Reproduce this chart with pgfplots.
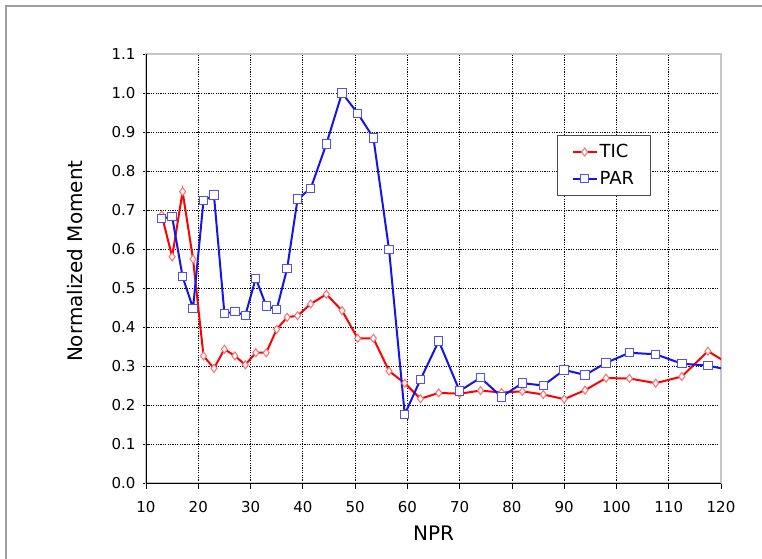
\documentclass[border=0pt]{standalone}
\usepackage{pgfplots}
\pgfplotsset{compat=1.18}
\usepackage{fontspec}
\setmainfont{DejaVu Sans}

\definecolor{ticred}{RGB}{255,0,0}
\definecolor{ticmark}{RGB}{255,110,110}
\definecolor{parblue}{RGB}{20,20,235}
\definecolor{parmark}{RGB}{80,80,245}

\pgfplotstableread{
x     tic    par
13    0.687  0.678
15    0.580  0.683
17    0.747  0.529
19    0.574  0.448
21    0.326  0.724
23    0.294  0.738
25    0.343  0.435
27    0.326  0.439
29    0.303  0.430
31    0.334  0.525
33    0.334  0.454
35    0.394  0.445
37    0.425  0.550
39    0.429  0.728
41.5  0.459  0.755
44.5  0.484  0.869
47.5  0.442  1.000
50.5  0.371  0.948
53.5  0.371  0.885
56.5  0.287  0.598
59.5  0.256  0.176
62.5  0.216  0.265
66    0.231  0.364
70    0.229  0.236
74    0.237  0.270
78    0.232  0.221
82    0.235  0.256
86    0.227  0.250
90    0.215  0.290
94    0.238  0.277
98    0.269  0.308
102.5 0.268  0.334
107.5 0.256  0.330
112.5 0.273  0.306
117.5 0.338  0.301
122.5 0.297  0.287
}\npr

\begin{document}
\begin{tikzpicture}
\path[use as bounding box] (0pt,0pt) rectangle (762pt,558pt);
\fill[white] (0pt,0pt) rectangle (762pt,558pt);
\draw[gray!75, line width=1.5pt] (6pt,-20pt) -- (6pt,552pt) -- (790pt,552pt);
\begin{axis}[
    at={(146pt,75pt)}, anchor=south west,
    width=575pt, height=429pt, scale only axis,
    xmin=10, xmax=120, ymin=0, ymax=1.1,
    xtick={10,20,30,40,50,60,70,80,90,100,110,120},
    ytick={0,0.1,0.2,0.3,0.4,0.5,0.6,0.7,0.8,0.9,1.0,1.1},
    xtick pos=left, ytick pos=left,
    major tick length=6pt,
    tick style={black, line width=0.8pt},
    xtick align=outside, ytick align=center,
    /pgf/number format/assume math mode=true,
    tick label style={font=\fontsize{15}{17}\selectfont},
    xticklabel style={yshift=-9pt},
    yticklabel style={xshift=-4pt, /pgf/number format/.cd, fixed, fixed zerofill, precision=1},
    grid=major,
    major grid style={black, dash pattern=on 1.2pt off 1.2pt, line width=0.7pt},
    axis line style={gray!45, line width=2pt},
    xlabel={NPR}, ylabel={Normalized Moment},
    label style={font=\fontsize{20}{24}\selectfont},
    xlabel style={at={(axis description cs:0.5,-0.1166)}, anchor=center},
    ylabel style={at={(axis description cs:-0.1235,0.517)}, anchor=center},
    legend style={at={(rel axis cs:0.715,0.811)}, anchor=north west,
        draw=black!70, line width=1pt, fill=white,
        font=\fontsize{18}{20}\selectfont,
        inner xsep=14pt, inner ysep=7pt, row sep=8pt,
        cells={anchor=west}},
    legend image code/.code={\draw[mark repeat=2,mark phase=2]
        plot coordinates {(0pt,0pt) (12pt,0pt) (24pt,0pt)};},
    legend cell align=left,
]
\addplot[ticred, line width=2pt, mark=diamond*, mark size=4pt,
    mark options={fill=white, draw=ticmark, line width=1pt}]
    table[x=x, y=tic] {\npr};
\addlegendentry{TIC}
\addplot[parblue, line width=2pt, mark=square*, mark size=4.2pt,
    mark options={fill=white, draw=parmark, line width=1pt}]
    table[x=x, y=par] {\npr};
\addlegendentry{PAR}
\draw[black, line width=1pt] (rel axis cs:0,1) -- (rel axis cs:0,0) -- (rel axis cs:1,0);
\end{axis}
\end{tikzpicture}
\end{document}
